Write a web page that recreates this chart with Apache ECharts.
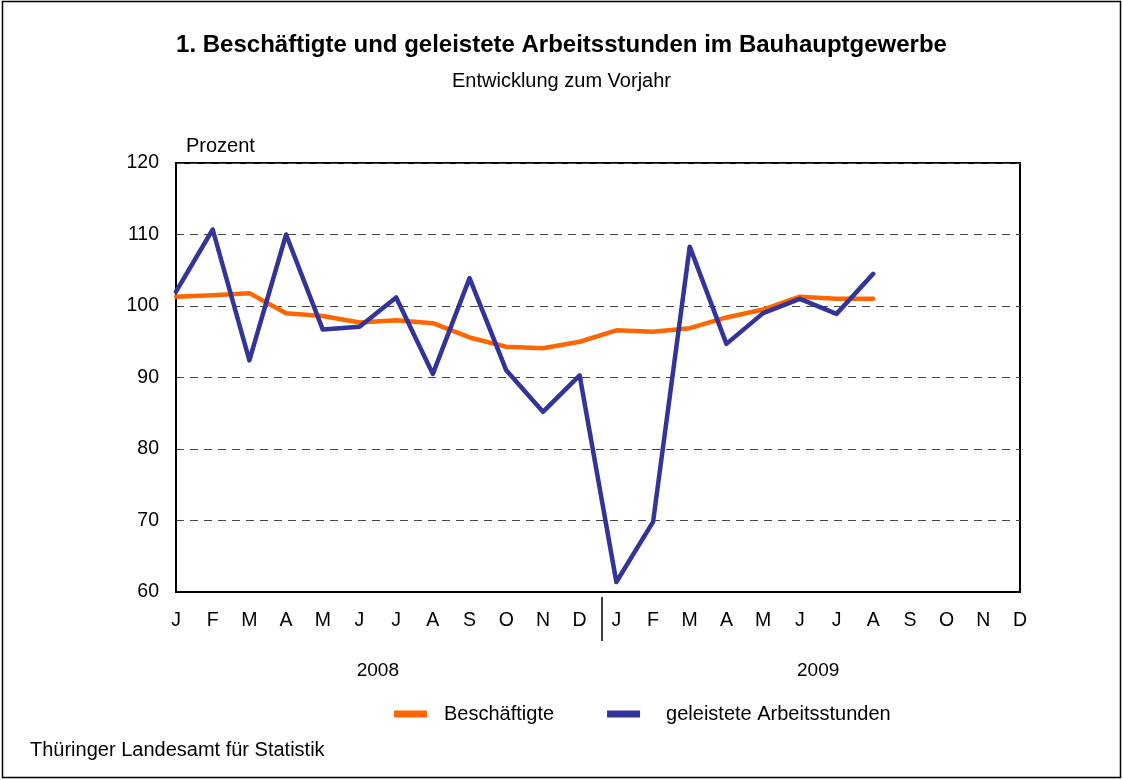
<!DOCTYPE html>
<html>
<head>
<meta charset="utf-8">
<script src="https://cdn.jsdelivr.net/npm/echarts@6/dist/echarts.min.js"></script>
<style>
html,body{margin:0;padding:0;background:#fff;}
#c{width:1123px;height:780px;}
</style>
</head>
<body>
<div id="c"></div>
<script>
const months = ['J','F','M','A','M','J','J','A','S','O','N','D','J','F','M','A','M','J','J','A','S','O','N','D'];
const years = ['2008','2009'];
const beschaeftigte = [101.3,101.5,101.8,99.0,98.6,97.7,98.0,97.6,95.6,94.3,94.1,95.0,
                       96.6,96.4,96.9,98.4,99.5,101.3,101.0,101.0,null,null,null,null];
const arbeitsstunden = [102.0,110.7,92.4,110.0,96.7,97.1,101.2,90.5,103.9,91.0,85.2,90.3,
                        61.4,69.8,108.3,94.7,99.0,101.0,98.9,104.5,null,null,null,null];
const yTicks = {min:60, max:120, interval:10};

const FONT = '"Liberation Sans", Arial, sans-serif';
const chart = echarts.init(document.getElementById('c'), null, {renderer:'canvas'});
chart.setOption({
  animation:false,
  backgroundColor:'#fff',
  textStyle:{fontFamily:FONT, color:'#000'},
  title:[
    {text:'1. Beschäftigte und geleistete Arbeitsstunden im Bauhauptgewerbe', left:'center', top:28,
     textStyle:{fontFamily:FONT, fontSize:24, fontWeight:'bold', color:'#000'}},
    {text:'Entwicklung zum Vorjahr', left:'center', top:66,
     textStyle:{fontFamily:FONT, fontSize:20, fontWeight:'normal', color:'#000'}},
    {text:'Thüringer Landesamt für Statistik', left:25, top:735,
     textStyle:{fontFamily:FONT, fontSize:20, fontWeight:'normal', color:'#000'}},
    {text:'Prozent', left:181, top:131,
     textStyle:{fontFamily:FONT, fontSize:20, fontWeight:'normal', color:'#000'}}
  ],
  graphic:[{type:'rect', shape:{x:2.5,y:1.5,width:1118,height:776}, style:{fill:'none', stroke:'#000', lineWidth:1.5}, silent:true}],
  legend:{
    left:389, top:699, itemWidth:33, itemHeight:7, itemGap:53, icon:'rect',
    textStyle:{fontFamily:FONT, fontSize:20, color:'#000'},
    data:[
      {name:'Beschäftigte', textStyle:{padding:[0,0,0,12]}},
      {name:'geleistete Arbeitsstunden', textStyle:{padding:[0,0,0,21]}}
    ]
  },
  grid:{left:176, right:103, top:163, bottom:188, show:true, borderColor:'#000', borderWidth:2, backgroundColor:'#fff'},
  xAxis:[
    {type:'category', data:months, boundaryGap:false,
     axisLine:{show:true, lineStyle:{color:'#000', width:2}}, axisTick:{show:false},
     axisLabel:{fontFamily:FONT, fontSize:19.5, color:'#000', margin:19, interval:0}},
    {type:'value', min:0, max:months.length-1, position:'bottom', offset:5,
     axisLine:{show:false}, splitLine:{show:false},
     axisTick:{show:true, customValues:[11.6], length:44, lineStyle:{color:'#000', width:1.5}},
     axisLabel:{show:true, customValues:[5.5,17.5], margin:64, fontFamily:FONT, fontSize:19, color:'#000',
       formatter:function(v){ return v < 11.5 ? years[0] : years[1]; }}}
  ],
  yAxis:{type:'value', min:yTicks.min, max:yTicks.max, interval:yTicks.interval,
    axisLine:{show:true, lineStyle:{color:'#000', width:2}}, axisTick:{show:false},
    axisLabel:{fontFamily:FONT, fontSize:19.5, color:'#000', margin:17},
    splitLine:{show:true, lineStyle:{color:'#444', width:1, type:[8,6]}}},
  series:[
    {name:'Beschäftigte', type:'line', data:beschaeftigte, xAxisIndex:0, showSymbol:false, symbol:'none',
     lineStyle:{color:'#FF6600', width:4.5, cap:'round', join:'round'}, itemStyle:{color:'#FF6600'}, z:2},
    {name:'geleistete Arbeitsstunden', type:'line', data:arbeitsstunden, xAxisIndex:0, showSymbol:false, symbol:'none',
     lineStyle:{color:'#333399', width:4.5, cap:'round', join:'round'}, itemStyle:{color:'#333399'}, z:3}
  ]
});
</script>
</body>
</html>
